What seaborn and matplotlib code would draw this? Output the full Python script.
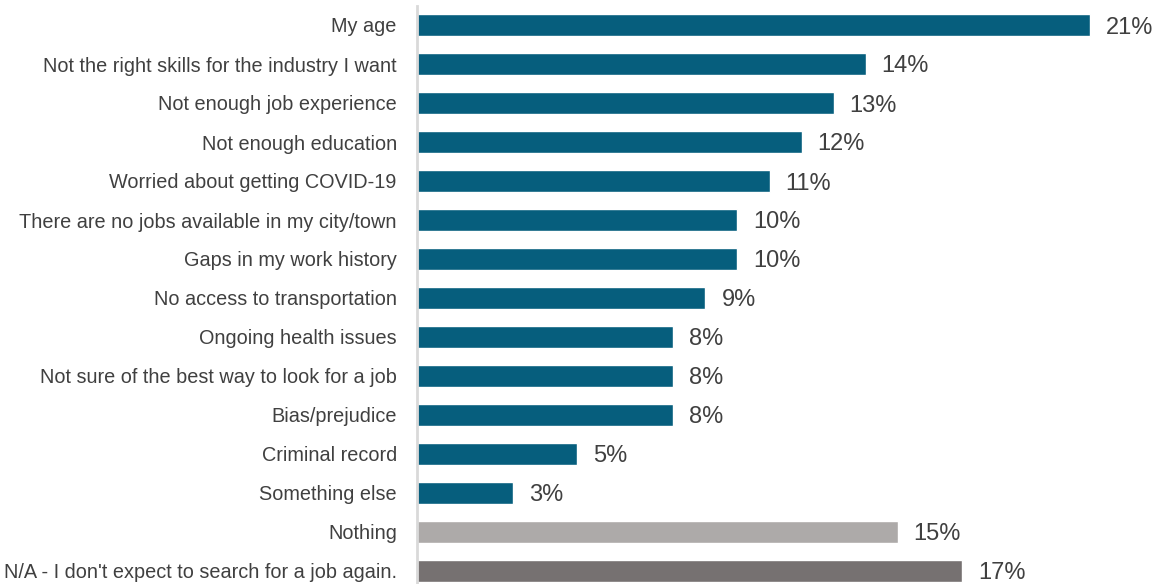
import matplotlib
matplotlib.use("Agg")
import matplotlib.pyplot as plt
import seaborn as sns
import pandas as pd

categories = [
    "My age",
    "Not the right skills for the industry I want",
    "Not enough job experience",
    "Not enough education",
    "Worried about getting COVID-19",
    "There are no jobs available in my city/town",
    "Gaps in my work history",
    "No access to transportation",
    "Ongoing health issues",
    "Not sure of the best way to look for a job",
    "Bias/prejudice",
    "Criminal record",
    "Something else",
    "Nothing",
    "N/A - I don't expect to search for a job again.",
]
values = [21, 14, 13, 12, 11, 10, 10, 9, 8, 8, 8, 5, 3, 15, 17]
bar_colors = ["#065E7D"] * 13 + ["#ADAAA9", "#767171"]

sns.set_theme(style="white")
plt.rcParams["font.family"] = ["Liberation Sans", "DejaVu Sans"]

df = pd.DataFrame({"reason": categories, "pct": values})

W, H = 1156, 584
fig = plt.figure(figsize=(W / 100, H / 100), dpi=100)
ax_left, ax_top = 417, 6
ax = fig.add_axes([ax_left / W, 0, (W - ax_left) / W, (H - ax_top) / H])

sns.barplot(
    data=df, x="pct", y="reason", hue="reason",
    palette=bar_colors, legend=False, width=22 / 39,
    saturation=1, ax=ax, orient="h",
)

px_per_unit = (1091 - 418) / 21
ax.set_xlim(0, (W - ax_left) / px_per_unit)
step = 39
ax.set_ylim((H - 25) / step, (ax_top - 25) / step)

# value labels to the right of each bar
for i, v in enumerate(values):
    ax.text(v + 0.5, i, f"{v}%", va="center_baseline", ha="left",
            fontsize=17, color="#404040", clip_on=False)

ax.set_xlabel("")
ax.set_ylabel("")
ax.set_xticks([])
ax.tick_params(axis="y", length=0, pad=14.5, labelsize=14.3, labelcolor="#404040")
for side in ["top", "right", "bottom"]:
    ax.spines[side].set_visible(False)
ax.spines["left"].set_color("#D9D9D9")
ax.spines["left"].set_linewidth(2)

fig.savefig("out.png", dpi=100)
